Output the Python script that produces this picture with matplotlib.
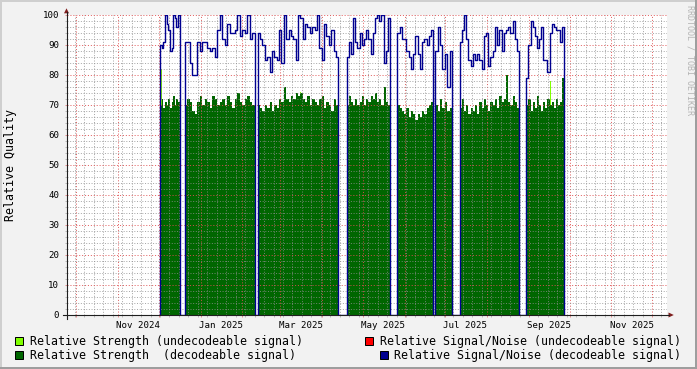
import numpy as np
import pandas as pd
import matplotlib
matplotlib.use('Agg')
import matplotlib.pyplot as plt
import matplotlib.dates as mdates
from matplotlib.ticker import MultipleLocator, NullFormatter
from matplotlib.patches import Rectangle, Polygon
from matplotlib.lines import Line2D

plt.rcParams['font.family'] = ['DejaVu Sans Mono']

W, H = 697, 369

# time range of the graph
x_start = pd.Timestamp('2024-09-24 05:00')
x_end = pd.Timestamp('2025-12-12 02:00')

# periods with data (receiver running)
seg_start = ['2024-12-02 05:00', '2024-12-20 05:00', '2025-02-12 07:00', '2025-04-19 02:00',
             '2025-05-26 17:00', '2025-06-23 19:00', '2025-07-11 14:00', '2025-08-30 00:00']
seg_end = ['2024-12-16 12:00', '2025-02-10 02:00', '2025-04-12 22:00', '2025-05-21 05:00',
           '2025-06-22 05:00', '2025-07-05 22:00', '2025-08-24 19:00', '2025-09-27 05:00']

# relative signal/noise, decodeable signal
snr_dec = [
    [90, 89, 91, 100, 97, 95, 88, 89, 100, 99, 96, 100],
    [91, 91, 84, 80, 80, 91, 88, 91, 91, 89, 88, 89, 86, 95, 100, 92, 90, 97, 94, 94,
     95, 100, 93, 95, 94, 100, 92, 94],
    [94, 92, 90, 85, 86, 81, 88, 86, 85, 95, 84, 100, 92, 95, 93, 92, 85, 100, 99, 92,
     97, 96, 94, 96, 95, 100, 89, 85, 97, 93, 90, 95, 88, 86],
    [86, 91, 87, 99, 91, 89, 94, 90, 92, 95, 92, 87, 94, 99, 100, 98, 100, 84, 88, 99],
    [94, 96, 92, 92, 88, 86, 82, 87, 93, 87, 82, 91, 92, 90, 93, 95],
    [88, 96, 90, 82, 87, 76, 88],
    [91, 95, 100, 92, 85, 83, 87, 85, 87, 85, 82, 93, 94, 83, 86, 88, 96, 90, 95, 88,
     94, 95, 96, 94, 98, 92, 88],
    [79, 90, 98, 96, 93, 89, 92, 96, 85, 85, 81, 94, 97, 96, 95, 95, 91, 96],
]

# relative strength, decodeable signal
str_dec = [
    [70, 72, 69, 71, 70, 72, 69, 71, 73, 70, 72, 71],
    [70, 72, 71, 68, 67, 71, 73, 70, 72, 71, 69, 73, 72, 70, 71, 72, 70, 73, 71, 69,
     72, 74, 71, 70, 72, 73, 71, 70],
    [70, 69, 68, 70, 69, 71, 68, 70, 69, 72, 71, 76, 72, 71, 73, 72, 74, 73, 74, 72,
     71, 73, 70, 72, 71, 70, 72, 73, 69, 71, 70, 68, 72, 70],
    [70, 73, 71, 70, 72, 70, 71, 73, 70, 72, 71, 73, 72, 74, 71, 72, 70, 76, 71, 70],
    [70, 69, 68, 67, 69, 66, 68, 67, 65, 67, 66, 68, 67, 69, 70, 71],
    [70, 68, 72, 69, 71, 68, 69],
    [69, 72, 68, 70, 67, 69, 68, 70, 67, 71, 69, 72, 70, 68, 71, 70, 72, 69, 73, 71,
     72, 80, 71, 70, 73, 71, 69],
    [70, 72, 68, 71, 69, 73, 70, 68, 71, 69, 72, 70, 71, 69, 72, 70, 71, 79],
]

# relative strength, undecodeable signal (only a few samples)
str_undec_time = ['2024-12-02 22:00', '2025-03-16 00:00', '2025-09-16 14:00']
str_undec_val = [82, 74.5, 78]

label_months = ['2024-11-01', '2025-01-01', '2025-03-01', '2025-05-01',
                '2025-07-01', '2025-09-01', '2025-11-01']

legend_left = ['Relative Strength (undecodeable signal)', 'Relative Strength  (decodeable signal)']
legend_right = ['Relative Signal/Noise (undecodeable signal)', 'Relative Signal/Noise (decodeable signal)']

c_light = '#80FF00'
c_green = '#006600'
c_red = '#FF0000'
c_blue = '#000090'
c_grid = (0.56, 0.56, 0.56, 0.55)
c_mgrid = (0.87, 0.31, 0.31, 0.6)
c_arrow = '#801F1F'
c_axis = '#1F1F1F'


def step_series(values):
    xs, ys = [], []
    for s, e, v in zip(seg_start, seg_end, values):
        t = pd.date_range(s, e, periods=len(v) + 1)
        xs += [t[0]] + list(t)
        ys += [0] + list(v) + [0]
    return mdates.date2num(pd.DatetimeIndex(xs)), np.array(ys, dtype=float)


def fx(x):
    return x / W


def fy(y):
    return 1 - y / H


fig = plt.figure(figsize=(W / 100, H / 100), dpi=100, facecolor='#F2F2F2')
ax = fig.add_axes([67 / W, 54 / H, 600 / W, 300 / H])
ax.set_facecolor('white')
for sp in ax.spines.values():
    sp.set_visible(False)

# data
ax.bar(mdates.date2num(pd.DatetimeIndex(str_undec_time)), str_undec_val, width=0.8,
       color=c_light, zorder=1)
gx, gy = step_series(str_dec)
ax.fill_between(gx, gy, 0, step='post', color=c_green, lw=0, zorder=1.2)
bx, by = step_series(snr_dec)
ax.plot(bx, by, drawstyle='steps-post', color=c_blue, lw=1.0, zorder=3)

ax.set_xlim(x_start, x_end)
ax.set_ylim(0, 100)

# grid over the data, like rrdtool
ax.set_axisbelow(False)
ax.xaxis.set_major_locator(mdates.MonthLocator())
ax.xaxis.set_minor_locator(mdates.WeekdayLocator(byweekday=mdates.MO))
ax.xaxis.set_major_formatter(NullFormatter())
ax.yaxis.set_major_locator(MultipleLocator(10))
ax.yaxis.set_minor_locator(MultipleLocator(2))
ax.grid(which='major', color=c_mgrid, lw=0.6, ls=(0, (1.3, 2.2)))
ax.grid(which='minor', color=c_grid, lw=0.55, ls=(0, (1.3, 2.2)))
ax.tick_params(which='major', length=1.6, width=0.72, color=c_mgrid, direction='out',
               labelsize=6.6, pad=4)
ax.tick_params(which='minor', length=1.6, width=0.72, color=c_grid, direction='out')

for m in label_months:
    t = pd.Timestamp(m)
    ax.text(t + pd.Timedelta(days=15), -13.5 / 300, t.strftime('%b %Y'),
            transform=ax.get_xaxis_transform(), ha='center', va='baseline', fontsize=6.6)

# axes with arrows
fig.add_artist(Line2D([fx(66.5), fx(66.5)], [fy(319), fy(12)], color=c_axis, lw=0.8))
fig.add_artist(Line2D([fx(63), fx(669)], [fy(315), fy(315)], color=c_axis, lw=0.8))
fig.add_artist(Polygon([(fx(64), fy(13.3)), (fx(69), fy(13.3)), (fx(66.5), fy(8.3))],
                       closed=True, color=c_arrow, lw=0))
fig.add_artist(Polygon([(fx(668.5), fy(312.5)), (fx(668.5), fy(317.5)), (fx(673.8), fy(315))],
                       closed=True, color=c_arrow, lw=0))

fig.text(fx(11), fy(165), 'Relative Quality', rotation=90, ha='center', va='center', fontsize=8.35)
fig.text(fx(690), fy(5), 'RRDTOOL / TOBI OETIKER', rotation=270, ha='center', va='top',
         fontsize=6, color='#B4B4B4')

# legend
boxes = [(15, 337, c_light), (15, 351, c_green), (365, 337, c_red), (379.5, 351, c_blue)]
for bx0, by0, c in boxes:
    fig.add_artist(Rectangle((fx(bx0), fy(by0 + 8)), 8 / W, 8 / H, facecolor=c,
                             edgecolor='black', lw=0.72, transform=fig.transFigure))
fig.text(fx(30), fy(345), legend_left[0], fontsize=8.35, va='baseline')
fig.text(fx(30), fy(359), legend_left[1], fontsize=8.35, va='baseline')
fig.text(fx(380), fy(345), legend_right[0], fontsize=8.35, va='baseline')
fig.text(fx(394), fy(359), legend_right[1], fontsize=8.35, va='baseline')

# 3d border
fig.add_artist(Rectangle((0, fy(2)), 1, 2 / H, color='#CFCFCF', lw=0, transform=fig.transFigure))
fig.add_artist(Rectangle((0, 0), 2 / W, 1, color='#CFCFCF', lw=0, transform=fig.transFigure))
fig.add_artist(Rectangle((0, 0), 1, 2 / H, color='#9E9E9E', lw=0, transform=fig.transFigure))
fig.add_artist(Rectangle((fx(W - 2), 0), 2 / W, 1, color='#9E9E9E', lw=0, transform=fig.transFigure))

fig.savefig('out.png', dpi=100, facecolor=fig.get_facecolor())
